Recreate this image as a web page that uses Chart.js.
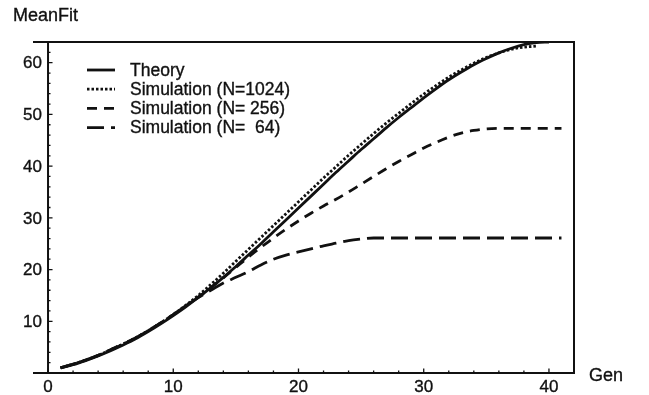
<!DOCTYPE html>
<html>
<head>
<meta charset="utf-8">
<script src="https://cdn.jsdelivr.net/npm/chart.js@4.4.0/dist/chart.umd.min.js"></script>
<style>
  html, body { margin: 0; padding: 0; background: #fff; }
</style>
</head>
<body>
<canvas id="Graphic_fit" width="649" height="395"></canvas>
<script>
// mean fitness per generation
var gensTheory = [1,2,3,4,5,6,7,8,9,10,11,12,13,14,15,16,17,18,19,20,21,22,23,24,25,26,27,28,29,30,31,32,33,34,35,36,37,38,39,40];
var theory = [1.0,1.6,2.4,3.3,4.3,5.4,6.6,8.0,9.5,11.1,
              12.8,14.6,16.5,18.5,20.6,22.8,25.0,27.3,29.6,31.9,
              34.2,36.5,38.8,41.0,43.2,45.3,47.4,49.4,51.3,53.2,
              55.0,56.7,58.2,59.6,60.8,61.9,62.8,63.5,63.9,64.0];

var gens1024 = [1,2,3,4,5,6,7,8,9,10,11,12,13,14,15,16,17,18,19,20,21,22,23,24,25,26,27,28,29,30,31,32,33,34,35,36,37,38,39];
var sim1024 = [1.0,1.7,2.5,3.4,4.5,5.6,6.8,8.2,9.7,11.3,
               13.1,15.0,17.1,19.3,21.6,23.9,26.2,28.5,30.8,33.1,
               35.4,37.7,39.9,42.1,44.2,46.3,48.3,50.2,52.1,53.9,
               55.6,57.2,58.6,59.9,61.0,61.9,62.6,63.0,63.2];

var gensSim = [1,2,3,4,5,6,7,8,9,10,11,12,13,14,15,16,17,18,19,20,21,22,23,24,25,26,27,28,29,30,31,32,33,34,35,36,37,38,39,40,41];
var sim256 = [1.0,1.7,2.5,3.4,4.5,5.6,6.8,8.2,9.7,11.3,
              13.0,14.7,16.5,18.4,20.4,22.4,24.3,26.1,27.8,29.4,
              30.9,32.3,33.6,35.0,36.5,38.0,39.5,40.9,42.2,43.5,
              44.6,45.6,46.4,46.9,47.2,47.3,47.3,47.3,47.3,47.3,
              47.3];
var sim64 = [1.0,1.7,2.5,3.4,4.5,5.6,6.8,8.2,9.7,11.3,
             13.0,14.6,16.0,17.4,18.5,19.6,20.9,22.0,22.8,23.4,
             24.0,24.6,25.1,25.6,25.9,26.1,26.1,26.1,26.1,26.1,
             26.1,26.1,26.1,26.1,26.1,26.1,26.1,26.1,26.1,26.1,
             26.1];

var xTicks = [0,10,20,30,40];
var yTicks = [10,20,30,40,50,60];
var legendLabels = ['Theory', 'Simulation (N=1024)', 'Simulation (N= 256)', 'Simulation (N=  64)'];

function toPoints(xs, ys) {
  return xs.map(function (x, i) { return { x: x, y: ys[i] }; });
}

var INK = '#111';
var FONT = '"Liberation Sans", Arial, Helvetica, sans-serif';

function line(label, xs, ys, dash) {
  return {
    label: label,
    data: toPoints(xs, ys),
    borderColor: INK,
    borderWidth: 2.8,
    borderDash: dash,
    pointRadius: 0,
    fill: false,
    cubicInterpolationMode: 'monotone'
  };
}

// slightly heavy text, like the rest of the ink
function text(ctx, s, x, y) {
  ctx.fillText(s, x, y);
  ctx.lineWidth = 0.35;
  ctx.strokeText(s, x, y);
}

// axes through the origin, box on top/right, inward ticks, titles and legend
var framePlugin = {
  id: 'framePlugin',
  afterDraw: function (chart) {
    var ctx = chart.ctx, sx = chart.scales.x, sy = chart.scales.y, a = chart.chartArea;
    var x0 = sx.getPixelForValue(0), y0 = sy.getPixelForValue(0);
    var v;
    ctx.save();
    ctx.strokeStyle = INK;
    ctx.setLineDash([]);
    ctx.lineWidth = 2;
    ctx.beginPath();
    ctx.moveTo(a.left, y0); ctx.lineTo(a.right, y0);
    ctx.lineTo(a.right, a.top); ctx.lineTo(a.left, a.top);
    ctx.moveTo(x0, a.top); ctx.lineTo(x0, y0);
    ctx.stroke();

    ctx.lineWidth = 1.3;
    ctx.beginPath();
    for (v = 0; v <= 40; v += 2) {
      var px = sx.getPixelForValue(v);
      ctx.moveTo(px, y0); ctx.lineTo(px, y0 - (v % 10 === 0 ? 4.5 : 2.5));
    }
    for (v = 2; v <= 62; v += 2) {
      var py = sy.getPixelForValue(v);
      ctx.moveTo(x0, py); ctx.lineTo(x0 + (v % 10 === 0 ? 4.5 : 2.5), py);
    }
    ctx.stroke();

    ctx.fillStyle = INK;
    ctx.font = '17px ' + FONT;
    ctx.textAlign = 'center';
    ctx.textBaseline = 'top';
    xTicks.forEach(function (t) { text(ctx, String(t), sx.getPixelForValue(t), y0 + 6); });
    ctx.textAlign = 'right';
    ctx.textBaseline = 'middle';
    yTicks.forEach(function (t) { text(ctx, String(t), x0 - 6, sy.getPixelForValue(t) + 1); });

    ctx.font = '18px ' + FONT;
    ctx.textAlign = 'left';
    ctx.textBaseline = 'alphabetic';
    text(ctx, 'MeanFit', 13, 21);
    text(ctx, 'Gen', 589, 381);

    // legend
    ctx.font = '17.5px ' + FONT;
    chart.data.datasets.forEach(function (ds, i) {
      var ly = 70 + i * 19.2;
      ctx.lineWidth = ds.borderWidth;
      ctx.setLineDash(ds.borderDash || []);
      ctx.beginPath();
      ctx.moveTo(87, ly); ctx.lineTo(115, ly);
      ctx.stroke();
      ctx.setLineDash([]);
      ctx.textBaseline = 'middle';
      text(ctx, ds.label, 130, ly + 1);
    });
    ctx.restore();
  }
};

var fit = document.getElementById('Graphic_fit').getContext('2d');
var fitChart = new Chart(fit, {
  type: 'line',
  data: {
    datasets: [
      line(legendLabels[0], gensTheory, theory, []),
      line(legendLabels[1], gens1024, sim1024, [2.5, 2]),
      line(legendLabels[2], gensSim, sim256, [10, 7]),
      line(legendLabels[3], gensSim, sim64, [17, 7])
    ]
  },
  options: {
    responsive: false,
    animation: false,
    layout: { padding: { left: 33, right: 75, top: 42, bottom: 22 } },
    plugins: { legend: { display: false }, tooltip: { enabled: false } },
    scales: {
      x: { type: 'linear', min: -1.2, max: 42, display: false },
      y: { type: 'linear', min: 0, max: 64, display: false }
    }
  },
  plugins: [framePlugin]
});
</script>
</body>
</html>
